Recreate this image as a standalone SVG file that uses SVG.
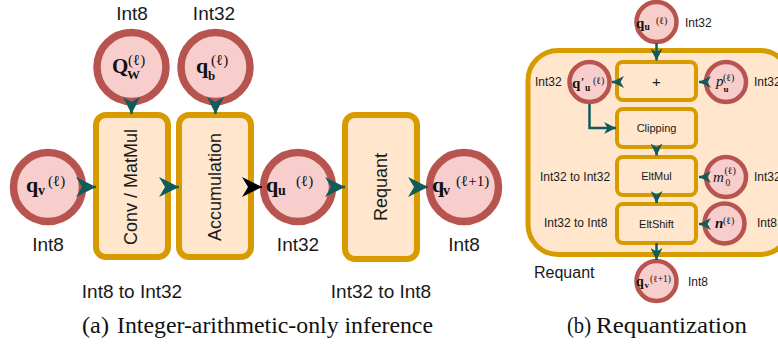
<svg xmlns="http://www.w3.org/2000/svg" width="778" height="346" viewBox="0 0 778 346">
<style>
.c{fill:#f8cecc;stroke:#b85450}
.b{fill:#ffe6cc;stroke:#d79b00}
.t{font-family:"Liberation Sans",Arial,sans-serif;fill:#1a1a1a}
.m{font-family:"Liberation Serif","DejaVu Serif",serif;fill:#111}
.bd{font-weight:bold}
.it{font-style:italic}
.cap{font-family:"Liberation Serif","Times New Roman",serif;font-size:23.5px;fill:#111}
.ln{fill:none;stroke:#0f5c5a;stroke-width:2.5}
</style>
<defs>
<marker id="a20" viewBox="0 0 20 20" refX="20" refY="10" markerWidth="20" markerHeight="20" markerUnits="userSpaceOnUse" orient="auto"><path d="M0,0 L20,10 L0,20 L6,10 Z" fill="#0f5c5a"/></marker>
<marker id="k20" viewBox="0 0 20 20" refX="20" refY="10" markerWidth="20" markerHeight="20" markerUnits="userSpaceOnUse" orient="auto"><path d="M0,0 L20,10 L0,20 L6,10 Z" fill="#000"/></marker>
<marker id="a17" viewBox="0 0 20 20" refX="20" refY="10" markerWidth="17" markerHeight="17" markerUnits="userSpaceOnUse" orient="auto"><path d="M0,0 L20,10 L0,20 L6,10 Z" fill="#0f5c5a"/></marker>
<marker id="a12" viewBox="0 0 12 12" refX="12" refY="6" markerWidth="12" markerHeight="12" markerUnits="userSpaceOnUse" orient="auto"><path d="M0,0 L12,6 L0,12 L3.5,6 Z" fill="#0f5c5a"/></marker>
</defs>
<rect width="778" height="346" fill="#fff"/>

<!-- Left panel -->
<g id="conv">
<rect class="b" x="96" y="115" width="72" height="142" rx="10" stroke-width="6"/>
<text class="t" font-size="18" text-anchor="middle" dominant-baseline="central" transform="translate(131,187) rotate(-90)">Conv / MatMul</text>
</g>
<g id="accum">
<rect class="b" x="179" y="115" width="72" height="142" rx="10" stroke-width="6"/>
<text class="t" font-size="18" text-anchor="middle" dominant-baseline="central" transform="translate(215,187) rotate(-90)">Accumulation</text>
</g>
<g id="requant">
<rect class="b" x="345" y="115" width="72" height="144" rx="10" stroke-width="6"/>
<text class="t" font-size="18" text-anchor="middle" dominant-baseline="central" transform="translate(381,187) rotate(-90)">Requant</text>
</g>
<g id="qv">
<circle class="c" cx="48" cy="187" r="34.5" stroke-width="7.5"/>
<text class="m"><tspan class="bd" x="26" y="192" font-size="22">q</tspan><tspan class="bd" x="38" y="195" font-size="14">v</tspan><tspan x="48" y="186" font-size="15">(ℓ)</tspan></text>
</g>
<g id="qw">
<circle class="c" cx="131.5" cy="67" r="34.5" stroke-width="7.5"/>
<text class="m"><tspan class="bd" x="112" y="73" font-size="21">Q</tspan><tspan class="bd" x="127" y="79" font-size="13">W</tspan><tspan x="128" y="65" font-size="15">(ℓ)</tspan></text>
</g>
<g id="qb">
<circle class="c" cx="215.5" cy="67" r="34.5" stroke-width="7.5"/>
<text class="m"><tspan class="bd" x="196" y="73" font-size="22">q</tspan><tspan class="bd" x="208" y="80" font-size="13">b</tspan><tspan x="211" y="65" font-size="15">(ℓ)</tspan></text>
</g>
<g id="qu">
<circle class="c" cx="298" cy="187" r="34.5" stroke-width="7.5"/>
<text class="m"><tspan class="bd" x="266" y="192" font-size="22">q</tspan><tspan class="bd" x="278" y="195" font-size="14">u</tspan><tspan x="296" y="186" font-size="15">(ℓ)</tspan></text>
</g>
<g id="qv1">
<circle class="c" cx="464" cy="187" r="34.5" stroke-width="7.5"/>
<text class="m"><tspan class="bd" x="432" y="192" font-size="22">q</tspan><tspan class="bd" x="443" y="195" font-size="14">v</tspan><tspan x="456" y="186" font-size="15">(ℓ+1)</tspan></text>
</g>
<g id="left-labels" class="t" font-size="19" text-anchor="middle">
<text x="132" y="20">Int8</text>
<text x="214" y="20">Int32</text>
<text x="48" y="251">Int8</text>
<text x="298" y="251">Int32</text>
<text x="464" y="251">Int8</text>
<text x="132" y="298">Int8 to Int32</text>
<text x="381" y="298">Int32 to Int8</text>
</g>

<!-- Right panel -->
<g id="rq-container">
<rect class="b" x="528" y="50.5" width="262" height="204" rx="30" stroke-width="5"/>
<text class="t" x="534" y="278" font-size="16">Requant</text>
</g>
<g id="plus">
<rect class="b" x="617" y="62" width="79" height="38" rx="6" stroke-width="4"/>
<text class="t" x="656.5" y="86.5" font-size="15" text-anchor="middle">+</text>
</g>
<g id="clip">
<rect class="b" x="617" y="109" width="79" height="38" rx="6" stroke-width="4"/>
<text class="t" x="656.5" y="132" font-size="11" text-anchor="middle">Clipping</text>
</g>
<g id="eltmul">
<rect class="b" x="617" y="157" width="79" height="38" rx="6" stroke-width="4"/>
<text class="t" x="656.5" y="180" font-size="11" text-anchor="middle">EltMul</text>
</g>
<g id="eltshift">
<rect class="b" x="617" y="204" width="79" height="39" rx="6" stroke-width="4"/>
<text class="t" x="656.5" y="228" font-size="11" text-anchor="middle">EltShift</text>
</g>
<g id="r-qu">
<circle class="c" cx="656.5" cy="22" r="20" stroke-width="4.5"/>
<text class="m"><tspan class="bd" x="636" y="28" font-size="15">q</tspan><tspan class="bd" x="644.5" y="30" font-size="9.5">u</tspan><tspan x="656" y="24" font-size="10">(ℓ)</tspan></text>
<text class="t" x="685" y="27" font-size="12">Int32</text>
</g>
<g id="r-qpu">
<circle class="c" cx="589.5" cy="82" r="20" stroke-width="4.5"/>
<text class="m"><tspan class="bd" x="572" y="88" font-size="15">q</tspan><tspan class="bd" x="581" y="86" font-size="12">′</tspan><tspan class="bd" x="585" y="91" font-size="9.5">u</tspan><tspan x="593" y="84" font-size="10">(ℓ)</tspan></text>
<text class="t" x="535" y="86" font-size="12">Int32</text>
</g>
<g id="r-pu">
<circle class="c" cx="726" cy="82" r="20" stroke-width="4.5"/>
<text class="m"><tspan class="it" x="716" y="86" font-size="15">p</tspan><tspan class="bd" x="723.5" y="92" font-size="9">u</tspan><tspan x="723" y="81" font-size="10">(ℓ)</tspan></text>
<text class="t" x="754" y="86" font-size="12">Int32</text>
</g>
<g id="r-m0">
<circle class="c" cx="726" cy="177" r="20" stroke-width="4.5"/>
<text class="m"><tspan class="it" x="713" y="182" font-size="15">m</tspan><tspan x="725.5" y="186" font-size="9.5">0</tspan><tspan x="724.5" y="174" font-size="10">(ℓ)</tspan></text>
<text class="t" x="754" y="181" font-size="12">Int32</text>
</g>
<g id="r-n">
<circle class="c" cx="724.5" cy="223.5" r="20" stroke-width="4.5"/>
<text class="m"><tspan class="it bd" x="715" y="228" font-size="15">n</tspan><tspan x="723" y="224" font-size="10">(ℓ)</tspan></text>
<text class="t" x="757" y="227" font-size="12">Int8</text>
</g>
<g id="r-qv">
<circle class="c" cx="656.5" cy="281" r="20" stroke-width="4.5"/>
<text class="m"><tspan class="bd" x="636" y="286" font-size="14">q</tspan><tspan class="bd" x="644.5" y="288" font-size="9">v</tspan><tspan x="650" y="281.5" font-size="9.5">(ℓ+1)</tspan></text>
<text class="t" x="688" y="286" font-size="12">Int8</text>
</g>
<g id="mid-labels" class="t" font-size="12">
<text x="540" y="181">Int32 to Int32</text>
<text x="544" y="227">Int32 to Int8</text>
</g>

<!-- connectors -->
<g id="connectors">
<line class="ln" x1="84" y1="187" x2="96" y2="187" marker-end="url(#a20)"/>
<line class="ln" x1="167" y1="187" x2="179" y2="187" marker-end="url(#a20)"/>
<line x1="250" y1="187" x2="262" y2="187" stroke="#000" stroke-width="2" marker-end="url(#k20)"/>
<line class="ln" x1="333" y1="187" x2="345" y2="187" marker-end="url(#a20)"/>
<line class="ln" x1="416" y1="187" x2="428" y2="187" marker-end="url(#a20)"/>
<line class="ln" x1="131.5" y1="103" x2="131.5" y2="114" marker-end="url(#a17)"/>
<line class="ln" x1="215.5" y1="103" x2="215.5" y2="114" marker-end="url(#a17)"/>

<line class="ln" x1="656.5" y1="43" x2="656.5" y2="60.5" marker-end="url(#a12)"/>
<line class="ln" x1="620" y1="82" x2="612" y2="82" marker-end="url(#a12)"/>
<line class="ln" x1="707" y1="82" x2="699" y2="82" marker-end="url(#a12)"/>
<polyline class="ln" points="589.5,104 589.5,128 616,128" marker-end="url(#a12)"/>
<line class="ln" x1="656.5" y1="147" x2="656.5" y2="155.5" marker-end="url(#a12)"/>
<line class="ln" x1="707" y1="177" x2="699" y2="177" marker-end="url(#a12)"/>
<line class="ln" x1="656.5" y1="195" x2="656.5" y2="203" marker-end="url(#a12)"/>
<line class="ln" x1="707" y1="224" x2="699" y2="224" marker-end="url(#a12)"/>
<line class="ln" x1="656.5" y1="243" x2="656.5" y2="260" marker-end="url(#a12)"/>
</g>

<g id="captions" class="cap">
<text y="333"><tspan x="82" textLength="27" lengthAdjust="spacingAndGlyphs">(a)</tspan><tspan x="117" textLength="316" lengthAdjust="spacingAndGlyphs">Integer-arithmetic-only inference</tspan></text>
<text y="333"><tspan x="567" textLength="24" lengthAdjust="spacingAndGlyphs">(b)</tspan><tspan x="596" textLength="151" lengthAdjust="spacingAndGlyphs">Requantization</tspan></text>
</g>
</svg>
